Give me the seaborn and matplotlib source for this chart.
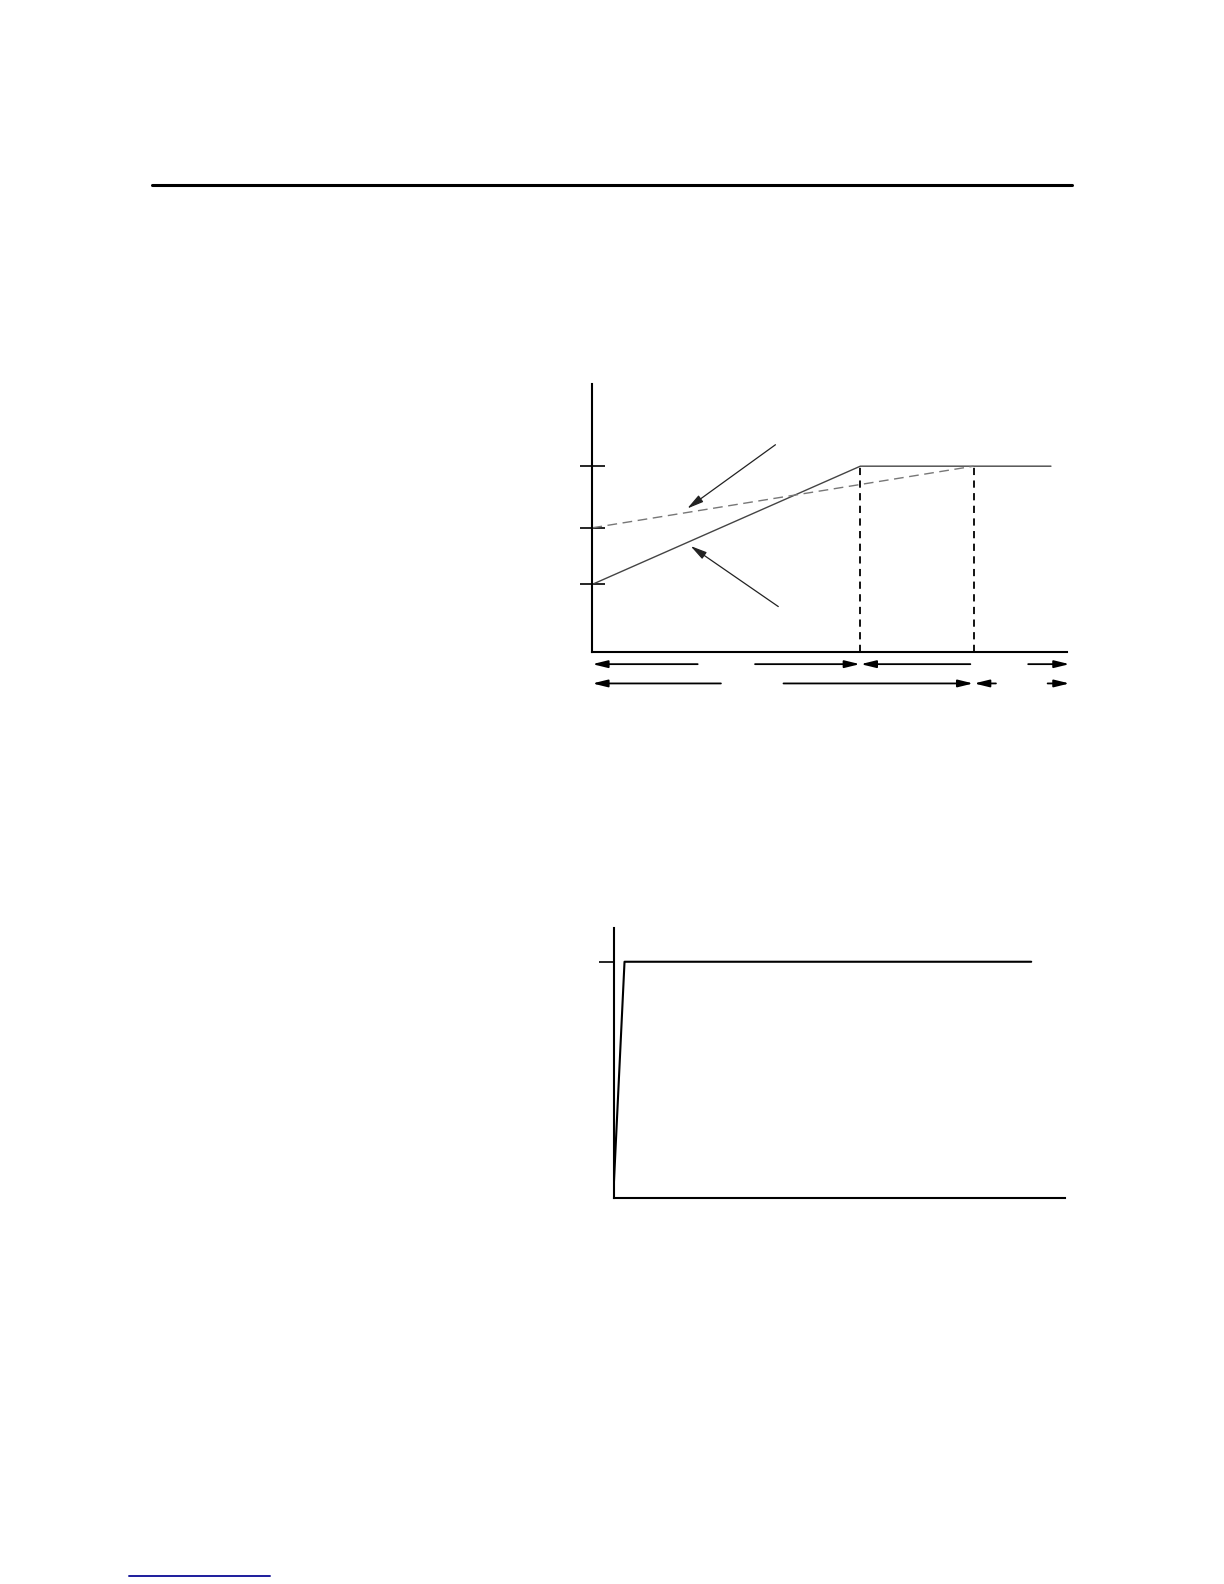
import matplotlib
matplotlib.use("Agg")
import matplotlib.pyplot as plt
from matplotlib.lines import Line2D
import seaborn as sns

sns.set_style("white")
plt.rcParams['font.family'] = ['DejaVu Sans']

# ---------------- data (chart units, 0..100 on each axis) ----------------
# top chart
solid_x = [0, 56.5, 96.7]
solid_y = [25.3, 69.4, 69.4]
dashed_x = [0, 80.4]
dashed_y = [46.4, 69.4]
top_yticks = [25.3, 46.4, 69.4]
drop_x = [56.5, 80.4]
drop_top = [69.4, 69.4]
# callout arrows: (tail_x, tail_y, head_x, head_y)
callout_tail_x = [38.6, 39.2]
callout_tail_y = [77.4, 17.0]
callout_head_x = [20.0, 20.7]
callout_head_y = [53.6, 39.6]
# span arrows below the axis: row level, tail x, head x
span_row = [-4.5, -4.5, -4.5, -4.5, -11.7, -11.7, -11.7, -11.7]
span_tail = [22.2, 34.3, 79.7, 91.9, 27.1, 40.3, 85.1, 96.0]
span_head = [0.0, 56.4, 56.6, 100.6, 0.0, 80.3, 80.5, 100.6]

# bottom chart
bottom_x = [0, 2.4, 92.6]
bottom_y = [4, 87.5, 87.5]
bottom_yticks = [87.5]

W, H = 1224, 1584
fig = plt.figure(figsize=(W / 100, H / 100), dpi=100)

# page rules
fig.add_artist(Line2D([152 / W, 1072 / W], [1 - 185 / H, 1 - 185 / H],
                      color="black", lw=2.2))
fig.add_artist(Line2D([129 / W, 270 / W], [1 - 1576 / H, 1 - 1576 / H],
                      color="#1c1c9c", lw=1.4))

HEAD = "-|>,head_length=0.9,head_width=0.22"

# ---------------- top chart ----------------
ax = fig.add_axes([592.4 / W, 1 - 652.1 / H, (1066.6 - 592.4) / W, (652.1 - 384.2) / H])
sns.lineplot(x=solid_x, y=solid_y, ax=ax, color="#444444", lw=1.0,
             estimator=None, sort=False)
sns.lineplot(x=dashed_x, y=dashed_y, ax=ax, color="#777777", lw=1.0,
             estimator=None, sort=False)
ax.lines[-1].set_dashes([7, 4])
for xv, yt in zip(drop_x, drop_top):
    sns.lineplot(x=[xv, xv], y=[0, yt], ax=ax, color="black", lw=1.3,
                 estimator=None, sort=False)
    ax.lines[-1].set_dashes([4, 3])

for tx, ty, hx, hy in zip(callout_tail_x, callout_tail_y, callout_head_x, callout_head_y):
    ax.annotate("", xy=(hx, hy), xytext=(tx, ty),
                arrowprops=dict(arrowstyle=HEAD, color="#222222", lw=0.9,
                                shrinkA=0, shrinkB=0, mutation_scale=11))
for ry, tx, hx in zip(span_row, span_tail, span_head):
    ax.annotate("", xy=(hx, ry), xytext=(tx, ry), annotation_clip=False,
                arrowprops=dict(arrowstyle=HEAD, color="black", lw=1.3,
                                shrinkA=0, shrinkB=0, mutation_scale=10))

ax.set_xlim(0, 100)
ax.set_ylim(0, 100)
ax.set_xticks([])
ax.set_yticks(top_yticks)
ax.set_yticklabels([])
ax.tick_params(axis="y", direction="inout", length=18, width=1.2, color="black", left=True)
for s in ["top", "right"]:
    ax.spines[s].set_visible(False)
for s in ["left", "bottom"]:
    ax.spines[s].set_color("black")
    ax.spines[s].set_linewidth(1.5)
ax.set_xlabel("")
ax.set_ylabel("")

# ---------------- bottom chart ----------------
bx = fig.add_axes([613.7 / W, 1 - 1198 / H, (1064.6 - 613.7) / W, (1198 - 928) / H])
sns.lineplot(x=bottom_x, y=bottom_y, ax=bx, color="black", lw=1.5,
             estimator=None, sort=False)
bx.set_xlim(0, 100)
bx.set_ylim(0, 100)
bx.set_xticks([])
bx.set_yticks(bottom_yticks)
bx.set_yticklabels([])
bx.tick_params(axis="y", direction="out", length=11, width=1.2, color="black", left=True)
for s in ["top", "right"]:
    bx.spines[s].set_visible(False)
for s in ["left", "bottom"]:
    bx.spines[s].set_color("black")
    bx.spines[s].set_linewidth(1.5)
bx.set_xlabel("")
bx.set_ylabel("")

fig.savefig("out.png", dpi=100)
